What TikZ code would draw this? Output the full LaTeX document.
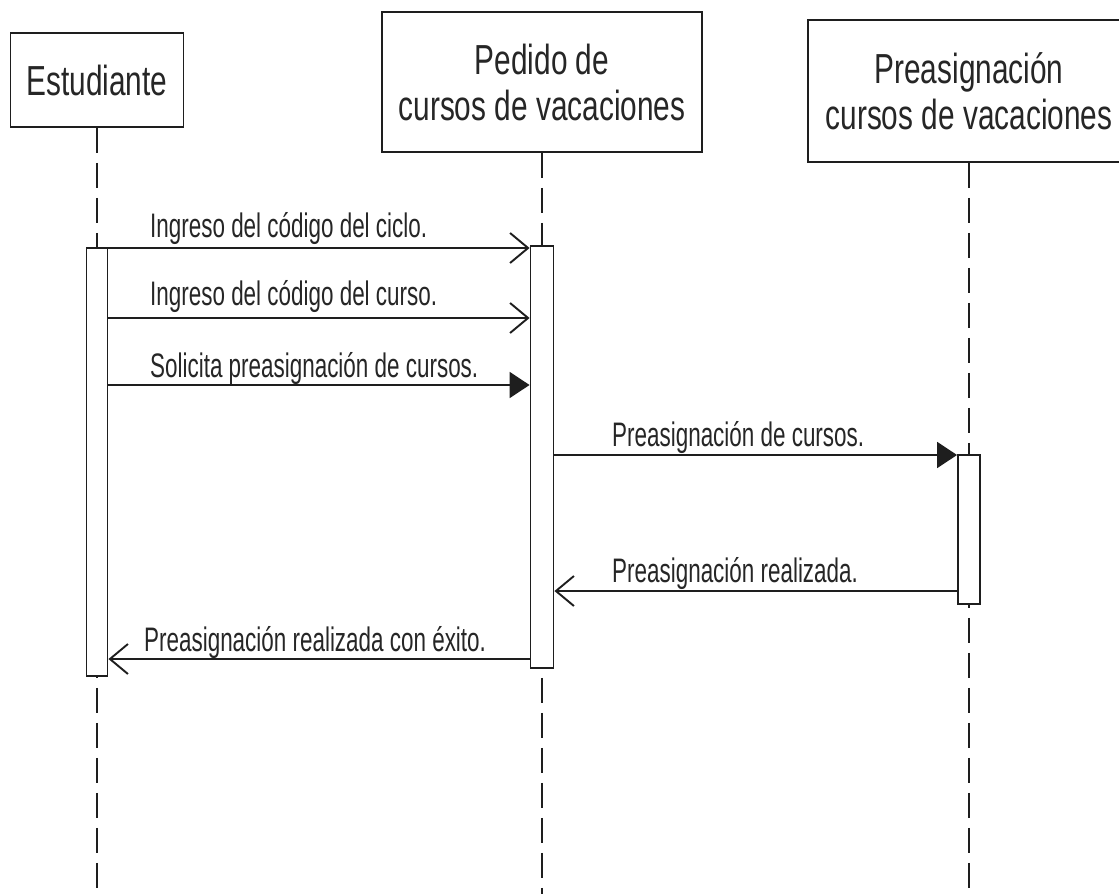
\documentclass[tikz,border=0pt]{standalone}
\usepackage{fontspec}
\setmainfont{Liberation Sans}
% narrow, tall lettering for headers and messages
\newfontfamily\headfont[FakeStretch=0.71]{Liberation Sans}
\newfontfamily\msgfont[FakeStretch=0.66]{Liberation Sans}
\usetikzlibrary{arrows.meta}
\definecolor{ink}{HTML}{1E1E1E}
\definecolor{txt}{HTML}{262626}

\begin{document}
\begin{tikzpicture}[x=1pt,y=-1pt,
  actor/.style={draw=ink,line width=1.9pt,fill=white,inner sep=0pt,
    align=center,text=txt,font=\headfont\fontsize{42}{46}\selectfont},
  bar/.style={draw=ink,line width=1.9pt,fill=white,inner sep=0pt},
  lifeline/.style={draw=ink,line width=1.9pt,dash pattern=on 25pt off 10pt},
  msg/.style={draw=ink,line width=1.9pt},
  openhead/.style={-{Straight Barb[length=18pt,width=30pt]}},
  fullhead/.style={-{Triangle[length=20pt,width=26pt]}},
  msgtext/.style={anchor=base west,inner sep=0pt,text=txt,
    font=\msgfont\fontsize{34}{38}\selectfont}
]
\useasboundingbox (0,0) rectangle (1119,894);
\clip (0,0) rectangle (1119,894);
\fill[white] (0,0) rectangle (1119,894);

% participants
\node[actor,minimum width=173pt,minimum height=94pt] (est) at (97,80) {Estudiante};
\node[actor,minimum width=320pt,minimum height=140pt] (ped) at (542,82) {Pedido de\\cursos de vacaciones};
\node[actor,minimum width=322pt,minimum height=142pt] (pre) at (969,91) {Preasignación\\cursos de vacaciones};

% lifelines
\coordinate (bottom) at (0,894);
\draw[lifeline] (est.south) -- (est.south |- bottom);
\draw[lifeline] (ped.south) -- (ped.south |- bottom);
\draw[lifeline] (pre.south) -- (pre.south |- bottom);

% activation bars
\node[bar,minimum width=21pt,minimum height=428pt] (ebar) at (97,462) {};
\node[bar,minimum width=23pt,minimum height=422pt] (pbar) at (542,457) {};
\node[bar,minimum width=22pt,minimum height=149pt] (rbar) at (969,529.5) {};

% message levels
\coordinate (y1) at (0,248);
\coordinate (y2) at (0,318);
\coordinate (y3) at (0,385);
\coordinate (y4) at (0,455);
\coordinate (y5) at (0,591);
\coordinate (y6) at (0,659);

% messages
\draw[msg,openhead] (ebar.east |- y1) -- (pbar.west |- y1);
\draw[msg,openhead] (ebar.east |- y2) -- (pbar.west |- y2);
\draw[msg,fullhead] (ebar.east |- y3) -- (pbar.west |- y3);
\draw[msg,fullhead] (pbar.east |- y4) -- (rbar.west |- y4);
\draw[msg,openhead] (rbar.west |- y5) -- (pbar.east |- y5);
\draw[msg,openhead] (pbar.west |- y6) -- (ebar.east |- y6);

% message labels
\node[msgtext] (l1) at (150,237) {Ingreso del código del ciclo.};
\node[msgtext] (l2) at (150,305) {Ingreso del código del curso.};
\node[msgtext] (l3) at (150,377) {Solicita preasignación de cursos.};
\node[msgtext] (l4) at (612,446) {Preasignación de cursos.};
\node[msgtext] (l5) at (612,582) {Preasignación realizada.};
\node[msgtext] (l6) at (144,651) {Preasignación realizada con éxito.};
\end{tikzpicture}
\end{document}
